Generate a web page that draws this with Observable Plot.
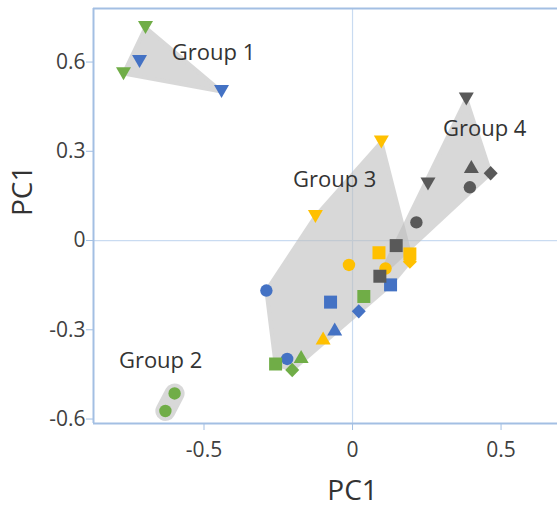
<!DOCTYPE html>
<html><head><meta charset="utf-8">
<script src="https://cdn.jsdelivr.net/npm/d3@7"></script>
<script src="https://cdn.jsdelivr.net/npm/@observablehq/plot@0.6"></script>
<style>body{margin:0;background:#fff}</style>
</head><body><div id="chart"></div>
<script>
// ---- data ----
const pcX = [-0.697,-0.717,-0.771,-0.441,
  -0.599,-0.630,
  0.097,-0.125,0.089,0.193,0.193,-0.012,0.111,0.128,-0.290,0.038,-0.074,0.021,-0.060,-0.099,-0.259,-0.220,-0.173,-0.203,
  0.383,0.400,0.465,0.254,0.395,0.215,0.147,0.092];
const pcY = [0.716,0.602,0.561,0.501,
  -0.514,-0.573,
  0.331,0.081,-0.041,-0.045,-0.071,-0.082,-0.094,-0.149,-0.168,-0.188,-0.207,-0.238,-0.297,-0.328,-0.415,-0.398,-0.390,-0.435,
  0.476,0.249,0.226,0.190,0.179,0.061,-0.017,-0.120];
const colorKeys = ["green","blue","green","blue",
  "green","green",
  "yellow","yellow","yellow","yellow","yellow","yellow","yellow","blue","blue","green","blue","blue","blue","yellow","green","blue","green","green",
  "dark","dark","dark","dark","dark","dark","dark","dark"];
const shapes = ["down","down","down","down",
  "circle","circle",
  "down","down","square","square","diamond","circle","circle","square","circle","square","square","diamond","up","up","square","circle","up","diamond",
  "down","up","diamond","down","circle","circle","square","square"];
const groups = [1,1,1,1, 2,2, 3,3,3,3,3,3,3,3,3,3,3,3,3,3,3,3,3,3, 4,4,4,4,4,4,4,4];
const groupLabels = ["Group 1","Group 2","Group 3","Group 4"];
const labelX = [-0.468,-0.646,-0.060,0.445];
const labelY = [0.632,-0.405,0.202,0.375];
const xTicks = [-0.5,0,0.5];
const yTicks = [-0.6,-0.3,0,0.3,0.6];
const colorDomain = ["blue","green","yellow","dark"];
const colorRange = ["#4472C4","#70AD47","#FFC000","#595959"];

const points = pcX.map((x,i)=>({x, y: pcY[i], c: colorKeys[i], s: shapes[i], g: groups[i]}));

const symbols = {
  circle: {draw(c){ c.moveTo(6.2,0); c.arc(0,0,6.2,0,2*Math.PI); }},
  square: {draw(c){ c.rect(-6.5,-6.5,13,13); }},
  diamond: {draw(c){ c.moveTo(0,-7.2); c.lineTo(7,0); c.lineTo(0,7.2); c.lineTo(-7,0); c.closePath(); }},
  up: {draw(c){ c.moveTo(0,-6.5); c.lineTo(7.5,6.5); c.lineTo(-7.5,6.5); c.closePath(); }},
  down: {draw(c){ c.moveTo(0,6.5); c.lineTo(7.5,-6.5); c.lineTo(-7.5,-6.5); c.closePath(); }}
};

const xDom = [-0.872, 0.69], yDom = [-0.615, 0.78];
const frameColor = "#a3bfe3", crossColor = "#c9dbf1", hullColor = "#bfbfbf";

const dotMarks = Object.keys(symbols).map(k =>
  Plot.dot(points.filter(d => d.s === k), {x: "x", y: "y", fill: "c", symbol: symbols[k], r: 6, stroke: null})
);

const plot = Plot.plot({
  width: 557, height: 508,
  marginLeft: 93, marginRight: 0, marginTop: 8, marginBottom: 85,
  x: {domain: xDom},
  y: {domain: yDom},
  color: {domain: colorDomain, range: colorRange},
  style: {fontFamily: "'Open Sans', sans-serif", background: "#fff"},
  marks: [
    Plot.ruleX([0], {stroke: crossColor, strokeWidth: 1.2}),
    Plot.ruleY([0], {stroke: crossColor, strokeWidth: 1.2}),
    Plot.hull(points.filter(d => d.g !== 2), {x: "x", y: "y", z: "g", fill: hullColor, stroke: hullColor, strokeWidth: 4, strokeLinejoin: "round", opacity: 0.6}),
    Plot.hull(points.filter(d => d.g === 2), {x: "x", y: "y", z: "g", fill: hullColor, stroke: hullColor, strokeWidth: 20, strokeLinejoin: "round", strokeLinecap: "round", opacity: 0.6}),
    ...dotMarks,
    Plot.ruleX([xDom[0]], {stroke: frameColor, strokeWidth: 2}),
    Plot.ruleY([yDom[1]], {stroke: frameColor, strokeWidth: 2}),
    Plot.ruleY([yDom[0]], {stroke: frameColor, strokeWidth: 2}),
    Plot.axisX({ticks: xTicks, tickSize: 7, tickPadding: 12, stroke: frameColor, fill: "#404040", fontSize: 21, tickFormat: d => String(d), label: null}),
    Plot.axisY({ticks: yTicks, tickSize: 7, tickPadding: 1, stroke: frameColor, fill: "#404040", fontSize: 21, tickFormat: d => String(d), label: null}),
    Plot.text(groupLabels, {x: (d,i) => labelX[i], y: (d,i) => labelY[i], text: d => d, fontSize: 22, fill: "#333"}),
    Plot.text(["PC1"], {x: () => 0, frameAnchor: "bottom", lineAnchor: "middle", dy: 68, text: d => d, fontSize: 28, fill: "#333"}),
    Plot.text(["PC1"], {frameAnchor: "left", dx: -70, rotate: -90, text: d => d, fontSize: 28, fill: "#333"})
  ]
});
document.getElementById("chart").appendChild(plot);
</script>
</body></html>
